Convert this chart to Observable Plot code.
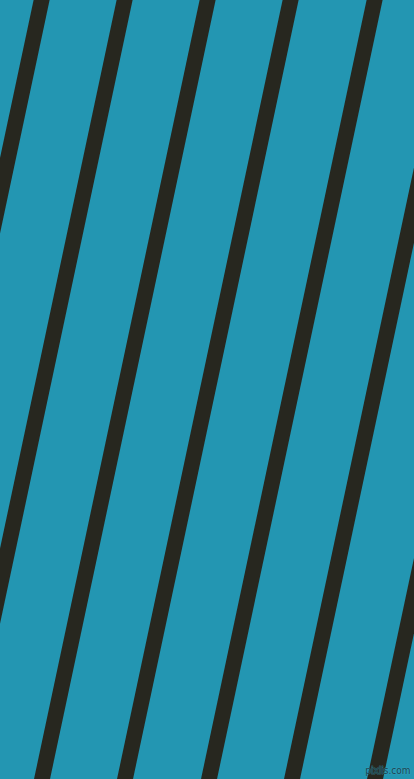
<!DOCTYPE html>
<html>
<head>
<meta charset="utf-8">
<script src="https://cdn.jsdelivr.net/npm/d3@7"></script>
<script src="https://cdn.jsdelivr.net/npm/@observablehq/plot@0.6"></script>
<style>
  html, body { margin: 0; padding: 0; background: #2396b2; overflow: hidden; }
  svg { display: block; }
</style>
</head>
<body>
<div id="chart"></div>
<script>
// Stripe left edges measured along the top edge (px), stripe width and angle
const stripeLeftAtTop = [-50, 33, 116, 199, 282, 366, 449, 532];
const stripeWidth = [16];
const stripeAngleDeg = [78];
const watermark = ["pixlis.com"];

const W = 414, H = 779;
const slope = 1 / Math.tan(stripeAngleDeg[0] * Math.PI / 180); // dx per dy
const yTop = -30, yBottom = H + 30;
const stripes = stripeLeftAtTop.map(l => {
  const c = l + stripeWidth[0] / 2;
  return {x1: c - slope * yTop, y1: yTop, x2: c - slope * yBottom, y2: yBottom};
});

const chart = Plot.plot({
  width: W,
  height: H,
  margin: 0,
  x: {domain: [0, W], range: [0, W], axis: null},
  y: {domain: [0, H], range: [0, H], axis: null},
  style: {background: "#2396b2", overflow: "hidden"},
  marks: [
    Plot.link(stripes, {
      x1: "x1", y1: "y1", x2: "x2", y2: "y2",
      stroke: "#27271f",
      strokeWidth: stripeWidth[0] * Math.cos((90 - stripeAngleDeg[0]) * Math.PI / 180),
      strokeLinecap: "butt"
    }),
    Plot.text(watermark, {
      text: d => d,
      frameAnchor: "bottom-right",
      dx: -4,
      dy: -6,
      fontSize: 10,
      fontFamily: "Liberation Sans Narrow, DejaVu Sans Condensed, sans-serif",
      fill: "#1b333a",
      fillOpacity: 0.85,
      stroke: "#3aa7c2",
      strokeWidth: 1,
      strokeOpacity: 0.5
    })
  ]
});
document.getElementById("chart").appendChild(chart);
</script>
</body>
</html>
